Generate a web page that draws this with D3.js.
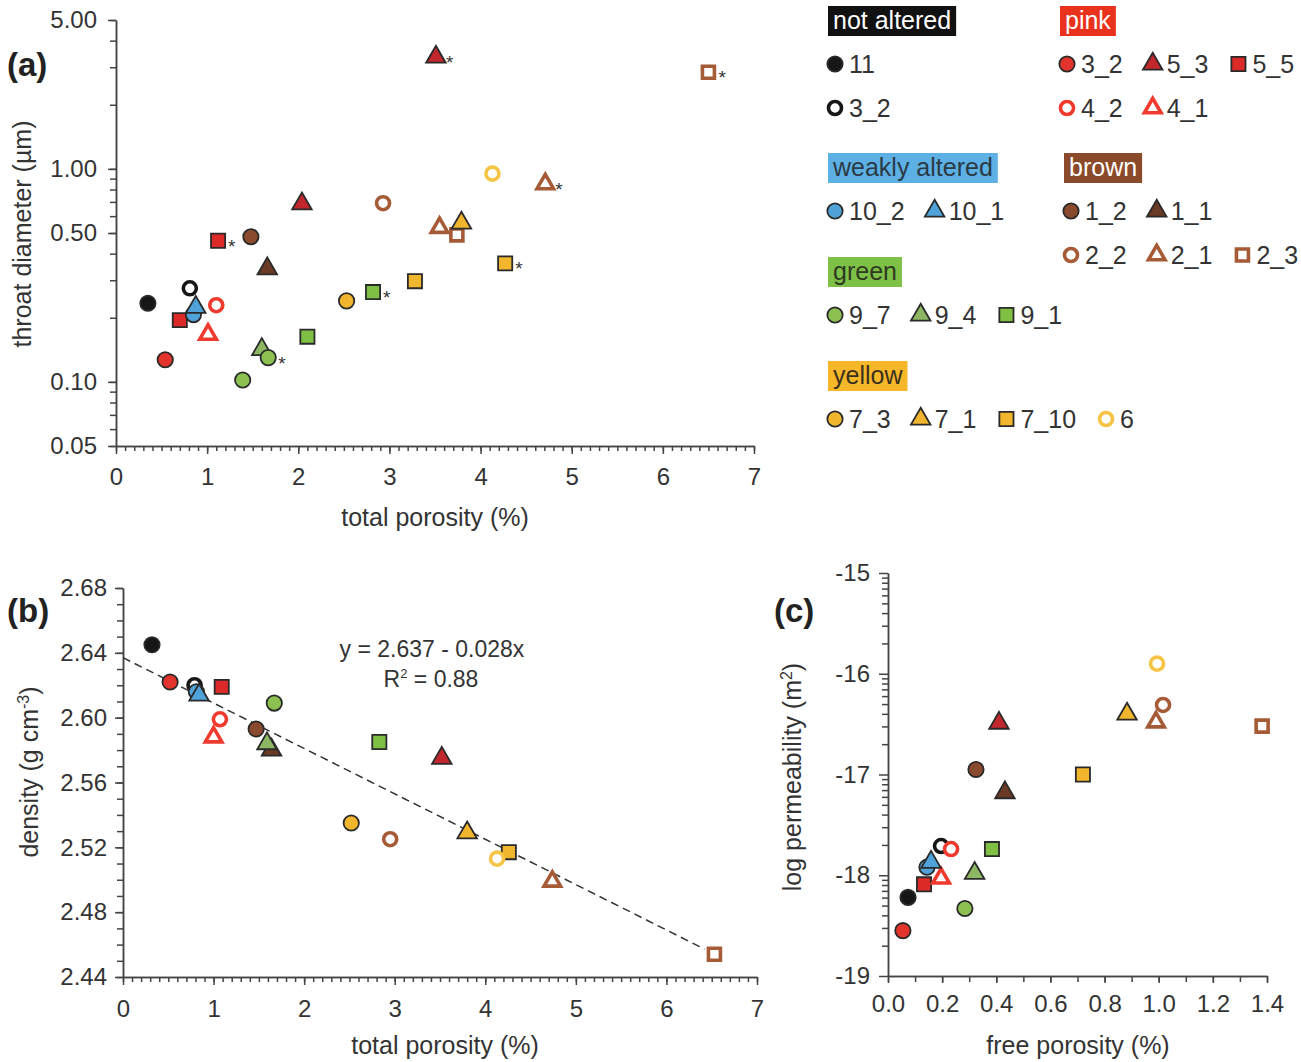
<!DOCTYPE html>
<html>
<head>
<meta charset="utf-8">
<script src="https://cdn.jsdelivr.net/npm/d3@7"></script>
<style>
  body { margin: 0; background: #fff; }
  svg text { font-family: "Liberation Sans", Arial, Helvetica, sans-serif; }
</style>
</head>
<body>
<svg id="chart" width="1301" height="1062"></svg>
<script>
// ---- samples ----
const sampleIds = ["11", "3_2n", "3_2", "5_3", "5_5", "4_2", "4_1", "10_2", "10_1", "1_2", "1_1",
  "2_2", "2_1", "2_3", "9_7", "9_4", "9_1", "7_3", "7_1", "7_10", "6"];
const sampleLabels = ["11", "3_2", "3_2", "5_3", "5_5", "4_2", "4_1", "10_2", "10_1", "1_2", "1_1",
  "2_2", "2_1", "2_3", "9_7", "9_4", "9_1", "7_3", "7_1", "7_10", "6"];
const groupNames = ["not altered", "pink", "weakly altered", "brown", "green", "yellow"];
const groupRows = [
  [["11"], ["3_2n"]],
  [["3_2", "5_3", "5_5"], ["4_2", "4_1"]],
  [["10_2", "10_1"]],
  [["1_2", "1_1"], ["2_2", "2_1", "2_3"]],
  [["9_7", "9_4", "9_1"]],
  [["7_3", "7_1", "7_10", "6"]],
];

// ---- (a) throat diameter vs total porosity ----
const aSample = ["11", "3_2n", "5_5", "10_2", "10_1", "4_2", "4_1", "3_2", "1_2", "1_1", "5_3",
  "9_7", "9_4", "9_1", "7_3", "2_2", "7_10", "6", "2_1", "2_3", "7_1",
  "5_5", "5_3", "2_3", "2_1", "7_10", "9_1", "9_7"];
const aPorosity = [0.35, 0.81, 0.70, 0.85, 0.875, 1.10, 1.01, 0.54, 1.48, 1.66, 2.04,
  1.39, 1.60, 2.10, 2.53, 2.93, 3.28, 4.13, 3.55, 3.74, 3.79,
  1.12, 3.51, 6.50, 4.71, 4.27, 2.82, 1.67];
const aThroat = [0.234, 0.275, 0.195, 0.207, 0.224, 0.229, 0.167, 0.127, 0.48, 0.34, 0.686,
  0.102, 0.142, 0.163, 0.24, 0.69, 0.297, 0.95, 0.53, 0.49, 0.557,
  0.46, 3.35, 2.84, 0.85, 0.36, 0.264, 0.13];
const aStar = [0, 0, 0, 0, 0, 0, 0, 0, 0, 0, 0,
  0, 0, 0, 0, 0, 0, 0, 0, 0, 0,
  1, 1, 1, 1, 1, 1, 1];
const aMajorY = [0.05, 0.1, 0.5, 1, 5];

// ---- (b) density vs total porosity (sampleIds order) ----
const bPorosity = [0.32, 0.79, 0.52, 3.52, 1.09, 1.07, 1.00, 0.81, 0.84, 1.47, 1.64,
  2.95, 4.74, 6.53, 1.67, 1.59, 2.83, 2.52, 3.80, 4.26, 4.13];
const bDensity = [2.645, 2.620, 2.622, 2.575, 2.619, 2.599, 2.588, 2.616, 2.614, 2.593, 2.580,
  2.525, 2.499, 2.454, 2.609, 2.584, 2.585, 2.535, 2.529, 2.517, 2.513];
const bFit = { intercept: 2.637, slope: -0.028, r2: 0.88, xMax: 6.42 };

// ---- (c) log permeability vs free porosity (sampleIds order) ----
const cFreePorosity = [0.074, 0.196, 0.055, 0.41, 0.133, 0.233, 0.196, 0.144, 0.159, 0.325, 0.432,
  1.016, 0.99, 1.382, 0.284, 0.32, 0.384, null, 0.883, 0.72, 0.994];
const cLogPerm = [-18.22, -17.71, -18.55, -16.49, -18.09, -17.74, -18.03, -17.92, -17.87, -16.95, -17.18,
  -16.31, -16.48, -16.52, -18.33, -17.98, -17.74, null, -16.40, -17.00, -15.90];

// ---- styles ----
const dark = "#2a2a2a";
const markerStyle = {
  "11":   { shape: "circle", fill: "#161616", stroke: dark },
  "3_2n": { shape: "circle", open: "#161616" },
  "3_2":  { shape: "circle", fill: "#e2342d", stroke: dark },
  "5_3":  { shape: "triangle", fill: "#c1272d", stroke: dark },
  "5_5":  { shape: "square", fill: "#dc2a28", stroke: dark },
  "4_2":  { shape: "circle", open: "#f03a2e" },
  "4_1":  { shape: "triangle", open: "#f03a2e" },
  "10_2": { shape: "circle", fill: "#4fa3d8", stroke: dark },
  "10_1": { shape: "triangle", fill: "#4fa3d8", stroke: dark },
  "1_2":  { shape: "circle", fill: "#8a4a2d", stroke: dark },
  "1_1":  { shape: "triangle", fill: "#6b3a24", stroke: dark },
  "2_2":  { shape: "circle", open: "#a65b37" },
  "2_1":  { shape: "triangle", open: "#a65b37" },
  "2_3":  { shape: "square", open: "#a65b37" },
  "9_7":  { shape: "circle", fill: "#8cc152", stroke: dark },
  "9_4":  { shape: "triangle", fill: "#8db662", stroke: dark },
  "9_1":  { shape: "square", fill: "#7fc044", stroke: dark },
  "7_3":  { shape: "circle", fill: "#f1b52e", stroke: dark },
  "7_1":  { shape: "triangle", fill: "#f1b52e", stroke: dark },
  "7_10": { shape: "square", fill: "#f1b52e", stroke: dark },
  "6":    { shape: "circle", open: "#f6c445" },
};
const groupBox = {
  "not altered":    { fill: "#111111", text: "#ffffff" },
  "pink":           { fill: "#e8321e", text: "#ffffff" },
  "weakly altered": { fill: "#5cb0e4", text: "#2b3a44" },
  "brown":          { fill: "#8b4a29", text: "#ffffff" },
  "green":          { fill: "#7ec146", text: "#2f3a22" },
  "yellow":         { fill: "#f6b829", text: "#3a3020" },
};
const axisColor = "#444";
const textColor = "#333";

const svg = d3.select("#chart");

function symbolPath(shape, open) {
  const type = shape === "circle" ? d3.symbolCircle : shape === "square" ? d3.symbolSquare : d3.symbolTriangle;
  const base = { circle: 185, square: 200, triangle: 165 }[shape];
  return d3.symbol().type(type).size(open ? base * 0.72 : base)();
}

function drawMarker(g, x, y, id) {
  const st = markerStyle[id];
  g.append("path")
    .attr("d", symbolPath(st.shape, !!st.open))
    .attr("transform", `translate(${x},${y})`)
    .attr("fill", st.open ? "#fff" : st.fill)
    .attr("stroke", st.open ? st.open : st.stroke)
    .attr("stroke-width", st.open ? 3.6 : 1.8)
    .attr("stroke-linejoin", "miter");
}

function styleAxis(g) {
  g.selectAll("path, line").attr("stroke", axisColor).attr("stroke-width", 1.5);
  g.selectAll("text").attr("fill", textColor).attr("font-size", 24);
}

function drawAxes(x, y, o) {
  const [x0] = x.range();
  const [y0] = y.range();
  // minor ticks
  svg.append("g").attr("transform", `translate(0,${y0})`)
    .call(d3.axisBottom(x).tickValues(o.xMinor).tickSize(o.xMinorLen).tickSizeOuter(0).tickFormat(""))
    .call(styleAxis);
  svg.append("g").attr("transform", `translate(${x0},0)`)
    .call(d3.axisLeft(y).tickValues(o.yMinor).tickSize(o.yMinorLen).tickSizeOuter(0).tickFormat(""))
    .call(styleAxis);
  // major ticks + labels
  svg.append("g").attr("transform", `translate(0,${y0})`)
    .call(d3.axisBottom(x).tickValues(o.xMajor).tickSize(o.xMajorLen).tickSizeOuter(0)
      .tickPadding(o.xPad).tickFormat(o.xFmt))
    .call(styleAxis);
  svg.append("g").attr("transform", `translate(${x0},0)`)
    .call(d3.axisLeft(y).tickValues(o.yMajor).tickSize(o.yMajorLen).tickSizeOuter(0)
      .tickPadding(o.yPad).tickFormat(o.yFmt))
    .call(styleAxis);
}

function title(x, y, text, rotate) {
  return svg.append("text")
    .attr("transform", `translate(${x},${y})` + (rotate ? " rotate(-90)" : ""))
    .attr("text-anchor", "middle")
    .attr("font-size", 25)
    .attr("fill", textColor)
    .text(text);
}

function panelLabel(x, y, text) {
  svg.append("text").attr("x", x).attr("y", y)
    .attr("font-size", 33).attr("font-weight", "bold").attr("fill", "#222").text(text);
}

// ================= panel (a) =================
const xA = d3.scaleLinear().domain([0, 7]).range([116, 754]);
const yA = d3.scaleLog().domain([0.05, 5]).range([446, 20]);
const aMinorY = [];
[0.01, 0.1, 1].forEach(b => {
  for (let k = 1; k < 10; k++) {
    const v = +(b * k).toPrecision(3);
    if (v >= 0.05 && v <= 5) aMinorY.push(v);
  }
});
drawAxes(xA, yA, {
  xMinor: d3.range(0, 70.5).map(d => d / 10), xMinorLen: 5,
  xMajor: d3.range(0, 8), xMajorLen: 8, xPad: 14, xFmt: d3.format("d"),
  yMinor: aMinorY, yMinorLen: 6,
  yMajor: aMajorY, yMajorLen: 8, yPad: 11, yFmt: d3.format(".2f"),
});
title(435, 526, "total porosity (%)");
title(31, 234, "throat diameter (µm)", true);
panelLabel(7, 76, "(a)");

const gA = svg.append("g");
aSample.forEach((id, i) => {
  const px = xA(aPorosity[i]), py = yA(aThroat[i]);
  drawMarker(gA, px, py, id);
  if (aStar[i]) {
    gA.append("text").attr("x", px + 10).attr("y", py + 12)
      .attr("font-size", 19).attr("fill", "#333").text("*");
  }
});

// ================= panel (b) =================
const xB = d3.scaleLinear().domain([0, 7]).range([123, 757]);
const yB = d3.scaleLinear().domain([2.44, 2.68]).range([977, 588]);
drawAxes(xB, yB, {
  xMinor: d3.range(0, 70.5).map(d => d / 10), xMinorLen: 5,
  xMajor: d3.range(0, 8), xMajorLen: 8, xPad: 15, xFmt: d3.format("d"),
  yMinor: d3.range(244, 268.5).map(d => d / 100), yMinorLen: 6,
  yMajor: d3.range(244, 268.5, 4).map(d => d / 100), yMajorLen: 8, yPad: 8, yFmt: d3.format(".2f"),
});
title(445, 1054, "total porosity (%)");
const tB = title(38, 772, "density (g cm", true);
tB.append("tspan").attr("dy", -9).attr("font-size", 16).text("-3");
tB.append("tspan").attr("dy", 9).text(")");
panelLabel(7, 622, "(b)");

const fitLine = d3.line().x(d => xB(d)).y(d => yB(bFit.intercept + bFit.slope * d));
svg.append("path").datum([0, bFit.xMax]).attr("d", fitLine)
  .attr("stroke", "#333").attr("stroke-width", 1.5).attr("stroke-dasharray", "8,5").attr("fill", "none");
svg.append("text").attr("x", 432).attr("y", 657).attr("text-anchor", "middle")
  .attr("font-size", 23).attr("fill", textColor)
  .text(`y = ${bFit.intercept} - ${bFit.slope.toString().replace("-", "")}x`);
const r2 = svg.append("text").attr("x", 431).attr("y", 687).attr("text-anchor", "middle")
  .attr("font-size", 23).attr("fill", textColor).text("R");
r2.append("tspan").attr("dy", -9).attr("font-size", 13).text("2");
r2.append("tspan").attr("dy", 9).text(` = ${bFit.r2.toFixed(2)}`);

const gB = svg.append("g");
sampleIds.forEach((id, i) => drawMarker(gB, xB(bPorosity[i]), yB(bDensity[i]), id));

// ================= panel (c) =================
const xC = d3.scaleLinear().domain([0, 1.4]).range([888, 1267]);
const yC = d3.scaleLinear().domain([-19, -15]).range([976, 573]);
const cMinorY = [];
for (let n = -19; n < -15; n++) for (let k = 2; k < 10; k++) cMinorY.push(n + Math.log10(k));
drawAxes(xC, yC, {
  xMinor: d3.range(0, 14.5).map(d => d / 10), xMinorLen: 6,
  xMajor: d3.range(0, 14.5, 2).map(d => d / 10), xMajorLen: 7, xPad: 12, xFmt: d3.format(".1f"),
  yMinor: cMinorY, yMinorLen: 6,
  yMajor: d3.range(-19, -14), yMajorLen: 9, yPad: 9, yFmt: d => String(d),
});
title(1078, 1054, "free porosity (%)");
const tC = title(801, 777, "log permeability (m", true);
tC.append("tspan").attr("dy", -9).attr("font-size", 16).text("2");
tC.append("tspan").attr("dy", 9).text(")");
panelLabel(774, 622, "(c)");

const gC = svg.append("g");
sampleIds.forEach((id, i) => {
  if (cFreePorosity[i] == null) return;
  drawMarker(gC, xC(cFreePorosity[i]), yC(cLogPerm[i]), id);
});

// ================= legend =================
const legendAnchor = [[828, 6], [1060, 6], [828, 153], [1064, 153], [828, 257], [828, 361]];
const labelOf = id => sampleLabels[sampleIds.indexOf(id)];
const gL = svg.append("g");
groupNames.forEach((name, gi) => {
  const [bx, by] = legendAnchor[gi];
  const box = gL.append("rect").attr("x", bx).attr("y", by).attr("height", 30).attr("fill", groupBox[name].fill);
  const t = gL.append("text").attr("x", bx + 5).attr("y", by + 23)
    .attr("font-size", 25).attr("fill", groupBox[name].text).text(name);
  box.attr("width", t.node().getComputedTextLength() + 10);
  groupRows[gi].forEach((row, ri) => {
    const cy = by + 58 + ri * 44;
    let cx = bx + 7;
    row.forEach(id => {
      drawMarker(gL, cx, cy, id);
      const lt = gL.append("text").attr("x", cx + 14).attr("y", cy + 9)
        .attr("font-size", 25).attr("fill", textColor).text(labelOf(id));
      cx = cx + 14 + lt.node().getComputedTextLength() + 30;
    });
  });
});
</script>
</body>
</html>
